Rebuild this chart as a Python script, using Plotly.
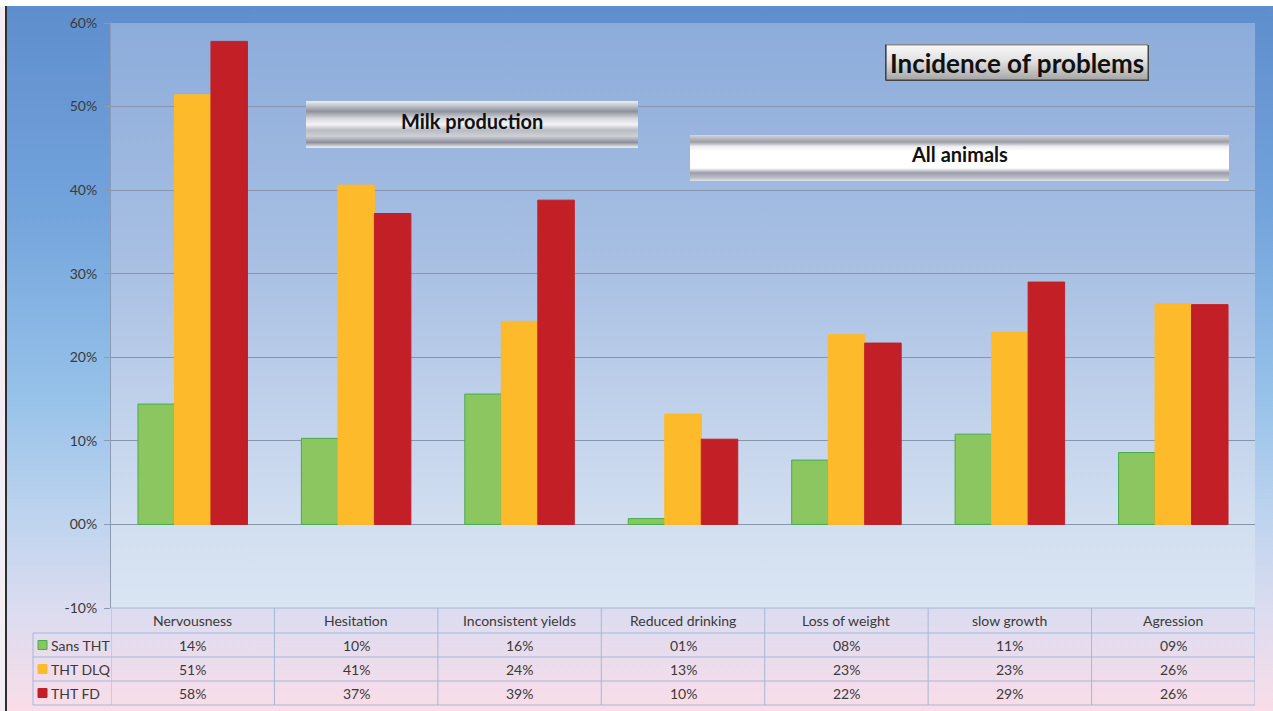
import base64
import plotly.graph_objects as go

# ---------------- data ----------------
categories = ["Nervousness", "Hesitation", "Inconsistent yields", "Reduced drinking",
              "Loss of weight", "slow growth", "Agression"]
series_names = ["Sans THT", "THT DLQ", "THT FD"]
sans_tht = [0.144, 0.103, 0.156, 0.007, 0.077, 0.108, 0.086]
tht_dlq = [0.514, 0.406, 0.243, 0.132, 0.227, 0.230, 0.264]
tht_fd = [0.578, 0.372, 0.388, 0.102, 0.217, 0.290, 0.263]
tick_vals = [-0.1, 0.0, 0.1, 0.2, 0.3, 0.4, 0.5, 0.6]
tick_text = ["-10%", "00%", "10%", "20%", "30%", "40%", "50%", "60%"]
title_main = "Incidence of problems"
label_milk = "Milk production"
label_all = "All animals"

# ---------------- styling ----------------
W, H = 1273, 711
ML, MR, MT, MB = 111, 18, 23, 103
PW, PH = W - ML - MR, H - MT - MB
FONT = "Lato"
colors = ["#8cc660", "#fdba2b", "#c21f27"]
outlines = ["#45ad4e", "#fdba2b", "#c21f27"]
TXT = "#3a3a3a"
TABLE_LINE = "#a3b8d6"


def px_x(px):
    return (px - ML) / PW


def px_y(py):
    return (H - MB - py) / PH


def uri(svg):
    return "data:image/svg+xml;base64," + base64.b64encode(svg.encode()).decode()


def grad(stops):
    return "".join(f'<stop offset="{o}" stop-color="{c}"/>' for o, c in stops)


bg_svg = f'''<svg xmlns="http://www.w3.org/2000/svg" width="{W}" height="{H}" viewBox="0 0 {W} {H}" preserveAspectRatio="none">
<defs>
<linearGradient id="o" x1="0" y1="0" x2="0" y2="1">{grad([(0, "#5e8dcd"), (0.3, "#74a4dc"), (0.55, "#95c1e9"), (0.72, "#bcd3ee"), (0.86, "#dcdcf0"), (1, "#fadde8")])}</linearGradient>
<linearGradient id="p" x1="0" y1="0" x2="0" y2="1">{grad([(0, "#8cacda"), (0.4, "#a8bfe3"), (0.7, "#c4d4ec"), (0.86, "#d2dff0"), (1, "#dae5f3")])}</linearGradient>
</defs>
<rect x="0" y="0" width="{W}" height="{H}" fill="url(#o)"/>
<rect x="{ML}" y="{MT}" width="{PW}" height="{PH}" fill="url(#p)"/>
<rect x="0" y="0" width="{W}" height="6" fill="#ffffff"/>
<rect x="0" y="6" width="5" height="{H}" fill="#f2eef4"/>
<rect x="5" y="6" width="2" height="{H}" fill="#2e2e2e"/>
</svg>'''


def box_svg(w, h, stops, stroke=None):
    s = ""
    if stroke:
        s = (f'<path d="M0.75,{h-0.75} L0.75,0.75 L{w-0.75},0.75" fill="none" stroke="#8a8a8a" stroke-width="1.5"/>'
             f'<path d="M{w-0.75},0.75 L{w-0.75},{h-0.75} L0.75,{h-0.75}" fill="none" stroke="{stroke}" stroke-width="1.5"/>'
             f'<path d="M0.75,0.75 L0.75,{h-0.75}" fill="none" stroke="{stroke}" stroke-width="1.5"/>')
    return f'''<svg xmlns="http://www.w3.org/2000/svg" width="{w}" height="{h}" viewBox="0 0 {w} {h}" preserveAspectRatio="none">
<defs><linearGradient id="g" x1="0" y1="0" x2="0" y2="1">{grad(stops)}</linearGradient></defs>
<rect x="0" y="0" width="{w}" height="{h}" fill="url(#g)"/>{s}</svg>'''


boxes = [
    # (x0, y0, x1, y1, stops, stroke)
    (885, 44, 1149, 81, [(0, "#fafafa"), (0.45, "#e2e2e2"), (1, "#a2a2a2")], "#454545"),
    (306, 101, 638, 148, [(0, "#eeeef2"), (0.1, "#c4c6ce"), (0.22, "#8e919d"), (0.38, "#dadbe0"),
                          (0.5, "#f3f3f5"), (0.62, "#b9bbc3"), (0.75, "#cfd0d6"), (0.88, "#8b8e9a"),
                          (0.96, "#d4d5db"), (1, "#eeeef2")], None),
    (690, 135, 1229, 181, [(0, "#d6d7dc"), (0.15, "#9a9da8"), (0.25, "#eeeef1"), (0.35, "#ffffff"),
                           (0.72, "#ffffff"), (0.82, "#9c9fab"), (0.92, "#b8bac3"), (1, "#e2e3e8")], None),
]
# text centre (pixel y) and size for each box label
box_texts = [(title_main, 26, 63), (label_milk, 20, 121), (label_all, 20, 154)]

images = [dict(source=uri(bg_svg), xref="paper", yref="paper", x=px_x(0), y=px_y(0),
               sizex=W / PW, sizey=H / PH, xanchor="left", yanchor="top",
               sizing="stretch", layer="below")]
for x0, y0, x1, y1, st, sk in boxes:
    images.append(dict(source=uri(box_svg(x1 - x0, y1 - y0, st, sk)), xref="paper", yref="paper",
                       x=px_x(x0), y=px_y(y0), sizex=(x1 - x0) / PW, sizey=(y1 - y0) / PH,
                       xanchor="left", yanchor="top", sizing="stretch", layer="above"))

# ---------------- figure ----------------
fig = go.Figure()
for name, vals, c, oc in zip(series_names, [sans_tht, tht_dlq, tht_fd], colors, outlines):
    fig.add_trace(go.Bar(x=categories, y=vals, name=name, marker=dict(color=c, line=dict(color=oc, width=1))))

shapes = []
annotations = []

# table geometry (pixels)
row_tops = [608, 633, 657, 681, 705]
header_mid = (row_tops[0] + row_tops[1]) / 2
row_mids = [(row_tops[i] + row_tops[i + 1]) / 2 for i in range(1, 4)]
left_col = 33

# vertical lines at category boundaries
for i in range(len(categories) + 1):
    shapes.append(dict(type="line", xref="x", yref="paper", x0=i - 0.5, x1=i - 0.5,
                       y0=px_y(row_tops[0]), y1=px_y(row_tops[-1]),
                       line=dict(color=TABLE_LINE, width=1)))
shapes.append(dict(type="line", xref="paper", yref="paper", x0=px_x(left_col), x1=px_x(left_col),
                   y0=px_y(row_tops[1]), y1=px_y(row_tops[-1]), line=dict(color=TABLE_LINE, width=1)))
# horizontal lines
shapes.append(dict(type="line", xref="paper", yref="paper", x0=0, x1=1,
                   y0=px_y(row_tops[0]), y1=px_y(row_tops[0]), line=dict(color=TABLE_LINE, width=1)))
for rt in row_tops[1:]:
    shapes.append(dict(type="line", xref="paper", yref="paper", x0=px_x(left_col), x1=1,
                       y0=px_y(rt), y1=px_y(rt), line=dict(color=TABLE_LINE, width=1)))

TFONT = dict(family=FONT, size=14, color=TXT)
# header text
for i, cat in enumerate(categories):
    annotations.append(dict(x=i, y=px_y(header_mid), xref="x", yref="paper", text=cat,
                            xanchor="center", yanchor="middle", showarrow=False, font=TFONT))
# rows
for r, (name, vals, c) in enumerate(zip(series_names, [sans_tht, tht_dlq, tht_fd], colors)):
    ym = row_mids[r]
    shapes.append(dict(type="rect", xref="paper", yref="paper", x0=px_x(38), x1=px_x(47),
                       y0=px_y(ym - 4.5), y1=px_y(ym + 4.5), fillcolor=c,
                       line=dict(color=outlines[r], width=1)))
    annotations.append(dict(x=px_x(49), y=px_y(ym), xref="paper", yref="paper", text=name,
                            xanchor="left", yanchor="middle", showarrow=False, font=TFONT))
    for i, v in enumerate(vals):
        annotations.append(dict(x=i, y=px_y(ym), xref="x", yref="paper",
                                text=f"{round(v * 100):02d}%", showarrow=False,
                                xanchor="center", yanchor="middle", font=TFONT))

# title boxes text
for (x0, y0, x1, y1, _, _), (t, fs, yc) in zip(boxes, box_texts):
    annotations.append(dict(x=px_x((x0 + x1) / 2), y=px_y(yc),
                            xref="paper", yref="paper", text=f"<b>{t}</b>", showarrow=False,
                            xanchor="center", yanchor="middle",
                            font=dict(family=FONT, size=fs, color="#111111")))

fig.update_layout(
    width=W, height=H,
    margin=dict(l=ML, r=MR, t=MT, b=MB, pad=0),
    paper_bgcolor="#ffffff", plot_bgcolor="rgba(0,0,0,0)",
    barmode="group", bargap=0.33, bargroupgap=0,
    showlegend=False,
    images=images, shapes=shapes, annotations=annotations,
    font=dict(family=FONT, size=13, color=TXT),
)
fig.update_xaxes(range=[-0.5, len(categories) - 0.5], showticklabels=False, showgrid=False,
                 zeroline=False, showline=False, ticks="")
fig.update_yaxes(range=[-0.1, 0.6], tickvals=tick_vals, ticktext=tick_text,
                 tickfont=dict(family=FONT, size=14, color=TXT),
                 showgrid=True, gridcolor="#8696ad", gridwidth=1,
                 zeroline=True, zerolinecolor="#8696ad", zerolinewidth=1,
                 showline=True, linecolor="#8d9bb0", linewidth=1,
                 ticks="outside", ticklen=6, tickcolor="#8d9bb0", ticklabelstandoff=4)

fig.write_html("out.html")
